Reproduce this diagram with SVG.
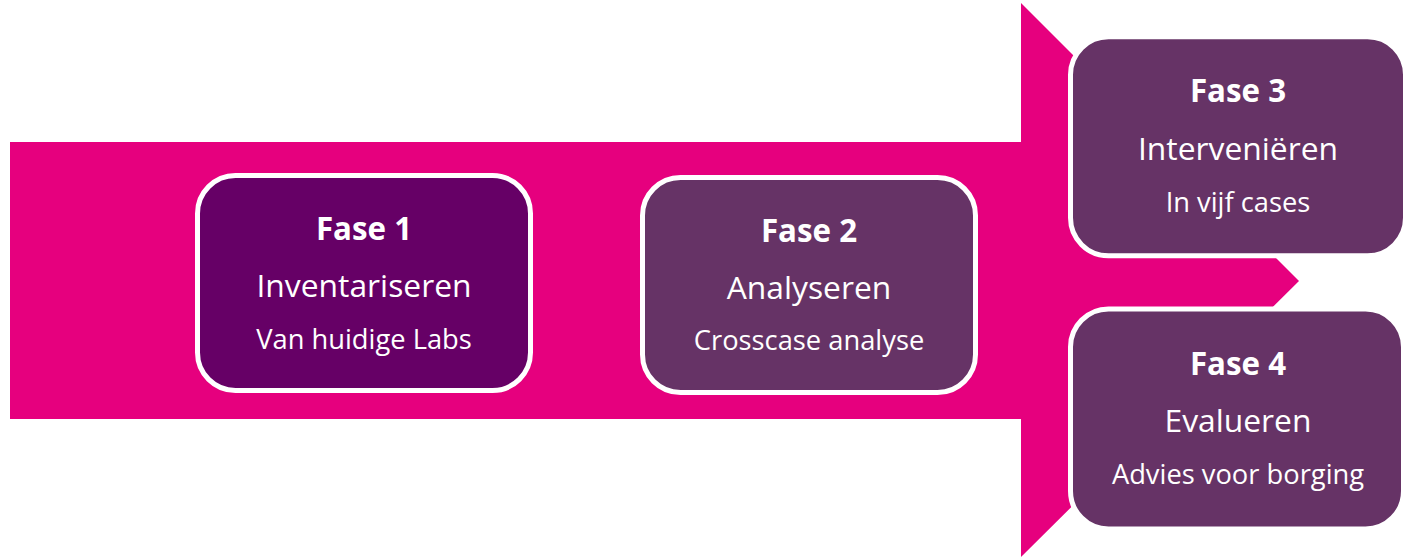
<svg xmlns="http://www.w3.org/2000/svg" width="1403" height="557" viewBox="0 0 1403 557">
  <style>
    .box { stroke: #ffffff; stroke-width: 5; }
    .dark { fill: #660066; }
    .mid { fill: #663366; }
    text { fill: #ffffff; font-family: "Open Sans", "Noto Sans", sans-serif; text-anchor: middle; }
    .t1 { font-weight: bold; font-size: 31.3px; }
    .t2 { font-size: 31.8px; }
    .t3 { font-size: 27.3px; }
  </style>
  <rect width="1403" height="557" fill="#ffffff"/>
  <g id="connectors">
    <polygon id="arrow" points="10,142 1021,142 1021,3 1299,281 1021,557 1021,419 10,419" fill="#e6007e"/>
  </g>
  <g id="fase1">
    <rect class="box dark" x="197.5" y="175.5" width="333" height="215" rx="38"/>
    <text class="t1" x="364" y="240">Fase 1</text>
    <text class="t2" x="364" y="297">Inventariseren</text>
    <text class="t3" x="364" y="349">Van huidige Labs</text>
  </g>
  <g id="fase2">
    <rect class="box mid" x="642.5" y="177.5" width="333" height="215" rx="38"/>
    <text class="t1" x="809" y="242">Fase 2</text>
    <text class="t2" x="809" y="299">Analyseren</text>
    <text class="t3" x="809" y="350">Crosscase analyse</text>
  </g>
  <g id="fase3">
    <rect class="box mid" x="1070.5" y="36.8" width="335" height="219" rx="38"/>
    <text class="t1" x="1238" y="102">Fase 3</text>
    <text class="t2" x="1238" y="160">Interveniëren</text>
    <text class="t3" x="1238" y="212">In vijf cases</text>
  </g>
  <g id="fase4">
    <rect class="box mid" x="1070.5" y="309" width="333" height="220" rx="38"/>
    <text class="t1" x="1238" y="375">Fase 4</text>
    <text class="t2" x="1238" y="432">Evalueren</text>
    <text class="t3" x="1238" y="484">Advies voor borging</text>
  </g>
</svg>
